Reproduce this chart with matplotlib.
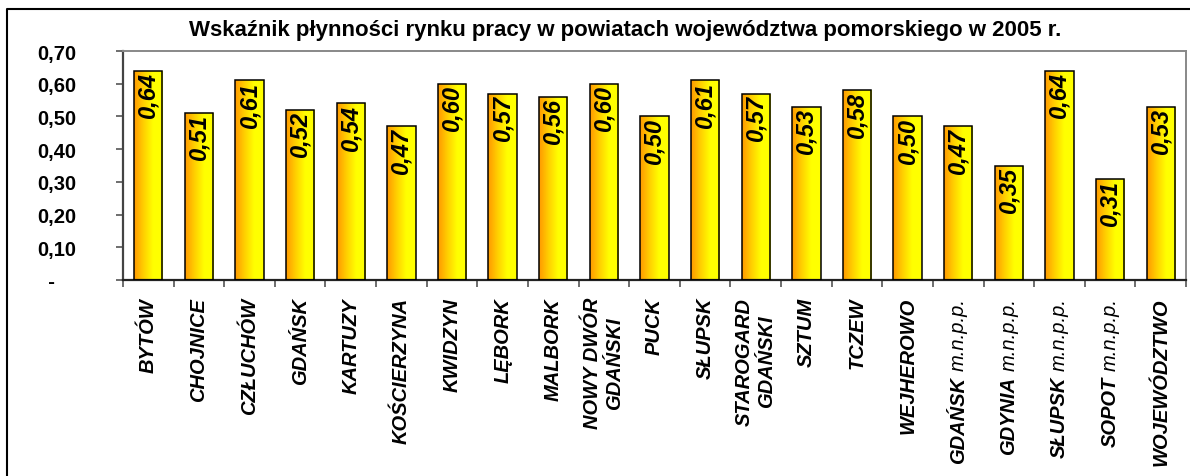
import numpy as np
import matplotlib
matplotlib.use("Agg")
import matplotlib.pyplot as plt
import matplotlib.transforms as mtransforms
from matplotlib.colors import LinearSegmentedColormap
from matplotlib.lines import Line2D

plt.rcParams['font.family'] = ['Liberation Sans', 'DejaVu Sans']

powiaty = ['BYTÓW', 'CHOJNICE', 'CZŁUCHÓW', 'GDAŃSK', 'KARTUZY', 'KOŚCIERZYNA',
           'KWIDZYN', 'LĘBORK', 'MALBORK', 'NOWY DWÓR\nGDAŃSKI', 'PUCK', 'SŁUPSK',
           'STAROGARD\nGDAŃSKI', 'SZTUM', 'TCZEW', 'WEJHEROWO',
           'GDAŃSK', 'GDYNIA', 'SŁUPSK', 'SOPOT', 'WOJEWÓDZTWO']
# miasta na prawach powiatu get a non-bold suffix
dopisek = [''] * 16 + ['m.n.p.p.'] * 4 + ['']
wskaznik = [0.64, 0.51, 0.61, 0.52, 0.54, 0.47, 0.60, 0.57, 0.56, 0.60, 0.50,
            0.61, 0.57, 0.53, 0.58, 0.50, 0.47, 0.35, 0.64, 0.31, 0.53]
y_ticks = [0.0, 0.1, 0.2, 0.3, 0.4, 0.5, 0.6, 0.7]
y_labels = ['  -', '0,10', '0,20', '0,30', '0,40', '0,50', '0,60', '0,70']

W, H = 1190, 477
fig = plt.figure(figsize=(W / 100, H / 100), dpi=100)
ax = fig.add_axes([123 / W, 1 - 281 / H, (1186 - 123) / W, (281 - 52) / H])

x = np.arange(len(powiaty))
bars = ax.bar(x, wskaznik, width=0.56, facecolor='none', edgecolor='black',
              linewidth=1.1, zorder=3)

# gradient orange -> yellow inside each bar
cmap = LinearSegmentedColormap.from_list('oy', ['#ff9900', '#ffd000', '#ffff00', '#ffff00'])
grad = np.linspace(0, 1, 64).reshape(1, -1)
for b in bars:
    x0, w, h = b.get_x(), b.get_width(), b.get_height()
    im = ax.imshow(grad, cmap=cmap, aspect='auto', extent=[x0, x0 + w, 0, h], zorder=2)
    im.set_clip_path(b)

for xi, v in zip(x, wskaznik):
    ax.text(xi, v - 0.004, f'{v:.2f}'.replace('.', ','), rotation=90,
            ha='center', va='top', fontsize=17, fontweight='bold', style='italic', zorder=4)

ax.set_xlim(-0.5, len(powiaty) - 0.5)
ax.set_ylim(0, 0.7)

# ticks between categories
ax.set_xticks(np.arange(-0.5, len(powiaty), 1))
ax.set_xticklabels([])
ax.tick_params(axis='x', length=5, width=1.2, color='#555555', direction='out')

ax.set_yticks(y_ticks)
ax.set_yticklabels(y_labels, ha='left', fontsize=14.5, fontweight='bold')
ax.tick_params(axis='y', length=5, width=1.2, color='#555555', pad=57)

# category labels, rotated, top-aligned below the axis
renderer = fig.canvas.get_renderer()
base = ax.get_xaxis_transform()
top_off = mtransforms.offset_copy(base, fig=fig, y=-(298 - 281) * 0.72, units='points')
for xi, name, extra in zip(x, powiaty, dopisek):
    if extra:
        t = ax.text(xi, 0, extra, transform=top_off, rotation=90, ha='center', va='top',
                    fontsize=14.5, style='italic')
        ext = t.get_window_extent(renderer)
        shift = ext.height * 72 / fig.dpi + 4
        tr = mtransforms.offset_copy(base, fig=fig, y=-(298 - 281) * 0.72 - shift, units='points')
    else:
        tr = top_off
    ax.text(xi, 0, name, transform=tr, rotation=90, ha='center', va='top',
            fontsize=14.5, fontweight='bold', style='italic', multialignment='center')

ax.spines['left'].set_color('#444444')
ax.spines['left'].set_linewidth(1.6)
ax.spines['bottom'].set_color('#222222')
ax.spines['bottom'].set_linewidth(1.6)
for s in ('top', 'right'):
    ax.spines[s].set_color('#888888')
    ax.spines[s].set_linewidth(1.4)

fig.text(625 / W, 1 - 36 / H,
         'Wskaźnik płynności rynku pracy w powiatach województwa pomorskiego w 2005 r.',
         ha='center', va='baseline', fontsize=16, fontweight='bold')

# chart frame (top and left edges)
fig.add_artist(Line2D([7 / W, 7 / W, 1.0], [0.0, 1 - 10 / H, 1 - 10 / H],
                      transform=fig.transFigure, color='black', linewidth=1.5))

fig.savefig('out.png', dpi=100)
